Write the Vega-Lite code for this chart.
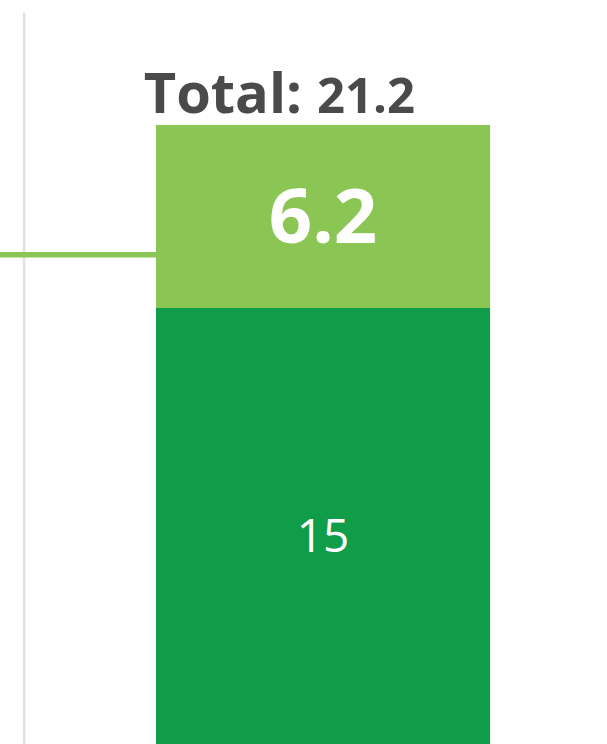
{
  "$schema": "https://vega.github.io/schema/vega-lite/v6.json",
  "width": 607,
  "height": 744,
  "padding": 0,
  "autosize": {"type": "none"},
  "config": {"view": {"stroke": null}, "font": "Open Sans"},
  "datasets": {
    "segments": [
      {"segment": "Base", "start": 0, "end": 15, "value": 15},
      {"segment": "Added", "start": 15, "end": 21.2, "value": 6.2}
    ],
    "previous": [{"level": 16.8}],
    "total": [{"label": "Total:", "total": 21.2}]
  },
  "layer": [
    {
      "data": {"values": [{"top": 25, "bottom": 0}]},
      "mark": {"type": "rule", "color": "#e0e0e0", "strokeWidth": 2.5, "clip": true},
      "encoding": {
        "x": {"datum": 0.605, "type": "quantitative", "scale": {"domain": [0.533, 2.35], "zero": false, "nice": false}, "axis": null},
        "y": {"field": "top", "type": "quantitative", "scale": {"domain": [0.228, 25.435], "zero": false, "nice": false}, "axis": null},
        "y2": {"field": "bottom"}
      }
    },
    {
      "data": {"name": "previous"},
      "mark": {"type": "rule", "color": "#8bc554", "strokeWidth": 5.5, "clip": true},
      "encoding": {
        "x": {"datum": 0.5, "type": "quantitative", "scale": {"domain": [0.533, 2.35], "zero": false, "nice": false}, "axis": null},
        "x2": {"datum": 1},
        "y": {"field": "level", "type": "quantitative", "scale": {"domain": [0.228, 25.435], "zero": false, "nice": false}, "axis": null}
      }
    },
    {
      "data": {"name": "segments"},
      "mark": {"type": "bar", "clip": true},
      "encoding": {
        "x": {"datum": 1, "type": "quantitative", "scale": {"domain": [0.533, 2.35], "zero": false, "nice": false}, "axis": null},
        "x2": {"datum": 2},
        "y": {"field": "start", "type": "quantitative", "scale": {"domain": [0.228, 25.435], "zero": false, "nice": false}, "axis": null},
        "y2": {"field": "end"},
        "color": {"field": "segment", "type": "nominal", "scale": {"domain": ["Base", "Added"], "range": ["#0f9d4a", "#8bc554"]}, "legend": null}
      }
    },
    {
      "data": {"name": "segments"},
      "transform": [{"filter": "datum.segment === 'Added'"}, {"calculate": "(datum.start + datum.end) / 2", "as": "mid"}],
      "mark": {"type": "text", "color": "#ffffff", "fontSize": 76, "fontWeight": "bold", "align": "center", "baseline": "middle", "dy": 4},
      "encoding": {
        "x": {"datum": 1.5, "type": "quantitative", "scale": {"domain": [0.533, 2.35], "zero": false, "nice": false}, "axis": null},
        "y": {"field": "mid", "type": "quantitative", "scale": {"domain": [0.228, 25.435], "zero": false, "nice": false}, "axis": null},
        "text": {"field": "value", "type": "quantitative", "format": ".1f"}
      }
    },
    {
      "data": {"name": "segments"},
      "transform": [{"filter": "datum.segment === 'Base'"}, {"calculate": "(datum.start + datum.end) / 2", "as": "mid"}],
      "mark": {"type": "text", "color": "#ffffff", "fontSize": 46, "fontWeight": "normal", "align": "center", "baseline": "middle", "dy": 9},
      "encoding": {
        "x": {"datum": 1.5, "type": "quantitative", "scale": {"domain": [0.533, 2.35], "zero": false, "nice": false}, "axis": null},
        "y": {"field": "mid", "type": "quantitative", "scale": {"domain": [0.228, 25.435], "zero": false, "nice": false}, "axis": null},
        "text": {"field": "value", "type": "quantitative", "format": "d"}
      }
    },
    {
      "data": {"name": "total"},
      "mark": {"type": "text", "color": "#4a4a4a", "fontSize": 56, "fontWeight": "bold", "align": "right", "baseline": "alphabetic", "dy": -12},
      "encoding": {
        "x": {"datum": 1.437, "type": "quantitative", "scale": {"domain": [0.533, 2.35], "zero": false, "nice": false}, "axis": null},
        "y": {"field": "total", "type": "quantitative", "scale": {"domain": [0.228, 25.435], "zero": false, "nice": false}, "axis": null},
        "text": {"field": "label", "type": "nominal"}
      }
    },
    {
      "data": {"name": "total"},
      "mark": {"type": "text", "color": "#4a4a4a", "fontSize": 49, "fontWeight": "bold", "align": "left", "baseline": "alphabetic", "dy": -12, "dx": 15},
      "encoding": {
        "x": {"datum": 1.437, "type": "quantitative", "scale": {"domain": [0.533, 2.35], "zero": false, "nice": false}, "axis": null},
        "y": {"field": "total", "type": "quantitative", "scale": {"domain": [0.228, 25.435], "zero": false, "nice": false}, "axis": null},
        "text": {"field": "total", "type": "quantitative", "format": ".1f"}
      }
    }
  ]
}
